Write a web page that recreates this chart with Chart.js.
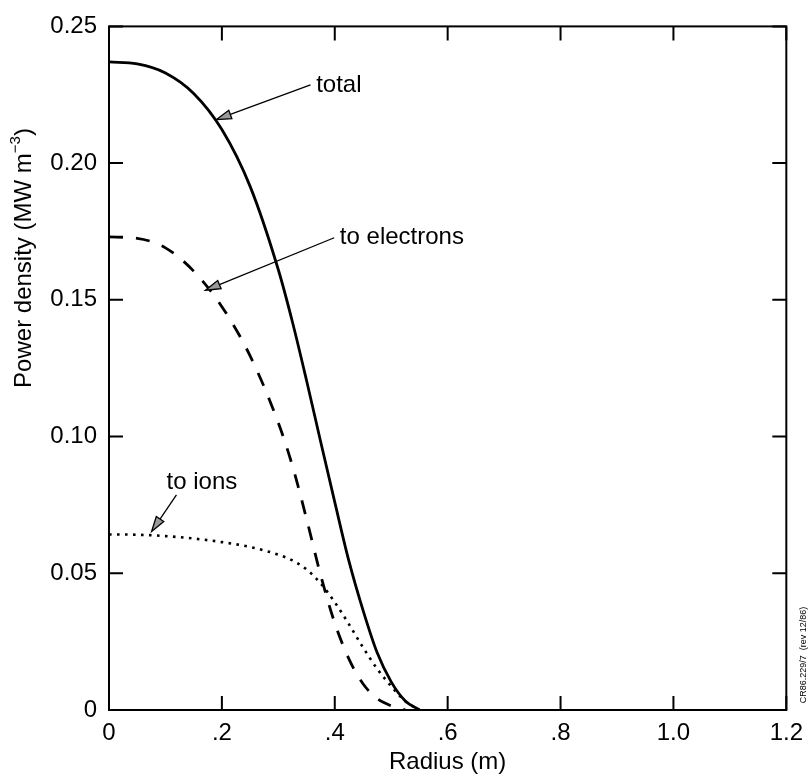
<!DOCTYPE html>
<html>
<head>
<meta charset="utf-8">
<script src="https://cdn.jsdelivr.net/npm/chart.js@4.4.1/dist/chart.umd.min.js"></script>
<style>
  html, body { margin: 0; padding: 0; background: #fff; }
  canvas { display: block; }
</style>
</head>
<body>
<canvas id="powerChart" width="812" height="779"></canvas>
<script>
const radius = [0, 0.05, 0.1, 0.15, 0.2, 0.25, 0.3, 0.325, 0.35, 0.375, 0.4, 0.425, 0.45, 0.475, 0.5, 0.525, 0.55];
const total = [0.237, 0.2363, 0.233, 0.2255, 0.2123, 0.1915, 0.161, 0.1419, 0.1205, 0.0981, 0.076, 0.0545, 0.0365, 0.021, 0.0103, 0.0033, 0];
const toElectrons = [0.173, 0.1725, 0.169, 0.1605, 0.1475, 0.1295, 0.105, 0.0893, 0.0699, 0.0493, 0.0318, 0.0187, 0.0096, 0.0042, 0.0015, 0, null];
const toIons = [0.0642, 0.0641, 0.0636, 0.0627, 0.0614, 0.0596, 0.0568, 0.0547, 0.0514, 0.0463, 0.0394, 0.0314, 0.0229, 0.0151, 0.0087, 0.0032, 0];

const xTickValues = [0, 0.2, 0.4, 0.6, 0.8, 1.0, 1.2];
const xTickLabels = ['0', '.2', '.4', '.6', '.8', '1.0', '1.2'];
const yTickValues = [0, 0.05, 0.1, 0.15, 0.2, 0.25];
const yTickLabels = ['0', '0.05', '0.10', '0.15', '0.20', '0.25'];

// label anchor (left, baseline) and arrow, in data units
const notes = [
  { text: 'total', at: [0.367, 0.2261], from: [0.357, 0.2286], to: [0.190, 0.2159] },
  { text: 'to electrons', at: [0.409, 0.1705], from: [0.399, 0.1727], to: [0.171, 0.1535] },
  { text: 'to ions', at: [0.102, 0.0809], from: [0.1195, 0.0787], to: [0.0755, 0.0653] },
];

const FONT = '"Liberation Sans", Arial, Helvetica, sans-serif';
Chart.defaults.font.family = FONT;
Chart.defaults.color = '#000';

const toPoints = (vals) => radius.map((r, i) => ({ x: r, y: vals[i] }));

const ctx = document.getElementById('powerChart');

new Chart(ctx, {
  type: 'line',
  data: {
    datasets: [
      {
        label: 'total',
        data: toPoints(total),
        borderColor: '#000',
        borderWidth: 2.8,
      },
      {
        label: 'to electrons',
        data: toPoints(toElectrons),
        borderColor: '#000',
        borderWidth: 2.8,
        borderDash: [14, 13],
      },
      {
        label: 'to ions',
        data: toPoints(toIons),
        borderColor: '#000',
        borderWidth: 2.6,
        borderDash: [2.6, 5.4],
      },
    ],
  },
  options: {
    responsive: false,
    animation: false,
    spanGaps: false,
    layout: { padding: { top: 20, right: 20, left: 0, bottom: 0 } },
    elements: {
      point: { radius: 0 },
      line: { cubicInterpolationMode: 'monotone', fill: false },
    },
    plugins: {
      legend: { display: false },
      tooltip: { enabled: false },
    },
    scales: {
      x: {
        type: 'linear',
        min: 0,
        max: 1.2,
        grid: { display: false, drawTicks: false },
        border: { display: false },
        afterBuildTicks(scale) {
          scale.ticks = xTickValues.map((v) => ({ value: v }));
        },
        afterFit(scale) {
          scale.height = 69;
        },
        ticks: {
          autoSkip: false,
          maxRotation: 0,
          padding: 9,
          font: { size: 24 },
          callback: (value, index) => xTickLabels[index],
        },
        title: {
          display: true,
          text: 'Radius (m)',
          font: { size: 24 },
          padding: { top: 0, bottom: 2 },
        },
      },
      y: {
        type: 'linear',
        min: 0,
        max: 0.25,
        grid: { display: false, drawTicks: false },
        border: { display: false },
        afterBuildTicks(scale) {
          scale.ticks = yTickValues.map((v) => ({ value: v }));
        },
        afterFit(scale) {
          scale.width = 109;
        },
        ticks: {
          padding: 12,
          font: { size: 24 },
          callback: (value, index) => yTickLabels[index],
        },
      },
    },
  },
  plugins: [
    {
      id: 'frameAndNotes',
      afterDraw(chart) {
        const { ctx, chartArea, scales } = chart;
        const { left, right, top, bottom } = chartArea;
        const xs = scales.x;
        const ys = scales.y;
        ctx.save();

        // frame
        ctx.strokeStyle = '#000';
        ctx.lineWidth = 2;
        ctx.strokeRect(left, top, right - left, bottom - top);

        // inward ticks on all four sides
        const tickLen = 14;
        ctx.lineWidth = 2;
        ctx.beginPath();
        xTickValues.forEach((v) => {
          const px = xs.getPixelForValue(v);
          ctx.moveTo(px, bottom);
          ctx.lineTo(px, bottom - tickLen);
          ctx.moveTo(px, top);
          ctx.lineTo(px, top + tickLen);
        });
        yTickValues.forEach((v) => {
          const py = ys.getPixelForValue(v);
          ctx.moveTo(left, py);
          ctx.lineTo(left + tickLen, py);
          ctx.moveTo(right, py);
          ctx.lineTo(right - tickLen, py);
        });
        ctx.stroke();

        // annotations with arrows
        ctx.fillStyle = '#000';
        ctx.font = '24px ' + FONT;
        ctx.textBaseline = 'alphabetic';
        ctx.textAlign = 'left';
        notes.forEach((n) => {
          ctx.fillText(n.text, xs.getPixelForValue(n.at[0]), ys.getPixelForValue(n.at[1]));
          const x1 = xs.getPixelForValue(n.from[0]);
          const y1 = ys.getPixelForValue(n.from[1]);
          const x2 = xs.getPixelForValue(n.to[0]);
          const y2 = ys.getPixelForValue(n.to[1]);
          const ang = Math.atan2(y2 - y1, x2 - x1);
          const headLen = 15;
          const headW = 4.5;
          const bx = x2 - headLen * Math.cos(ang);
          const by = y2 - headLen * Math.sin(ang);
          ctx.lineWidth = 1.3;
          ctx.beginPath();
          ctx.moveTo(x1, y1);
          ctx.lineTo(bx, by);
          ctx.stroke();
          ctx.beginPath();
          ctx.moveTo(x2, y2);
          ctx.lineTo(bx + headW * Math.sin(ang), by - headW * Math.cos(ang));
          ctx.lineTo(bx - headW * Math.sin(ang), by + headW * Math.cos(ang));
          ctx.closePath();
          ctx.fillStyle = '#9a9a9a';
          ctx.fill();
          ctx.stroke();
          ctx.fillStyle = '#000';
        });

        // y axis title with superscript
        ctx.translate(24, 258);
        ctx.rotate(-Math.PI / 2);
        ctx.textBaseline = 'middle';
        const main = 'Power density (MW m';
        const sup = '\u22123';
        const tail = ')';
        ctx.font = '24px ' + FONT;
        const wMain = ctx.measureText(main).width;
        const wTail = ctx.measureText(tail).width;
        ctx.font = '15px ' + FONT;
        const wSup = ctx.measureText(sup).width;
        let x = -(wMain + wSup + wTail) / 2;
        ctx.font = '24px ' + FONT;
        ctx.fillText(main, x, 0);
        x += wMain;
        ctx.font = '15px ' + FONT;
        ctx.fillText(sup, x, -8);
        x += wSup;
        ctx.font = '24px ' + FONT;
        ctx.fillText(tail, x, 0);
        ctx.restore();

        // figure reference on the right edge
        ctx.save();
        ctx.translate(804, 655);
        ctx.rotate(-Math.PI / 2);
        ctx.font = '9px ' + FONT;
        ctx.textAlign = 'center';
        ctx.textBaseline = 'middle';
        ctx.fillStyle = '#000';
        ctx.fillText('CR86.229/7  (rev 12/86)', 0, 0);
        ctx.restore();
      },
    },
  ],
});
</script>
</body>
</html>
